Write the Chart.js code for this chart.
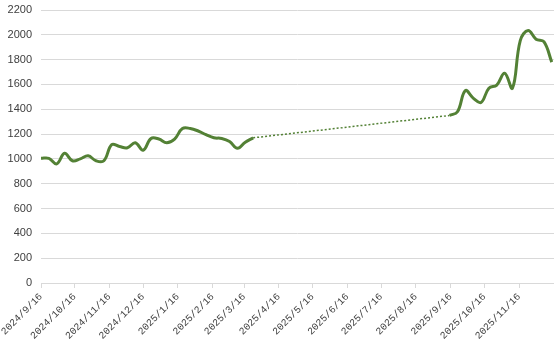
<!DOCTYPE html>
<html>
<head>
<meta charset="utf-8">
<script src="https://cdn.jsdelivr.net/npm/chart.js@4/dist/chart.umd.min.js"></script>
<style>
html,body{margin:0;padding:0;background:#fff;}
#wrap{width:554px;height:354px;position:relative;}
</style>
</head>
<body>
<div id="wrap"><canvas id="c" width="554" height="354"></canvas></div>
<script>
// Weekly observation dates
const dates = [
  '2024/9/16','2024/9/23','2024/9/30','2024/10/7','2024/10/14','2024/10/21','2024/10/28',
  '2024/11/4','2024/11/11','2024/11/18','2024/11/25','2024/12/2','2024/12/9','2024/12/16',
  '2024/12/23','2024/12/30','2025/1/6','2025/1/13','2025/1/20','2025/1/27','2025/2/3',
  '2025/2/10','2025/2/17','2025/2/24','2025/3/3','2025/3/10','2025/3/17','2025/3/24',
  '2025/9/15','2025/9/22','2025/9/29','2025/10/6','2025/10/13','2025/10/20','2025/10/27',
  '2025/11/3','2025/11/10','2025/11/17','2025/11/24','2025/12/1','2025/12/8','2025/12/15'
];
const values = [
  1005, 1005, 960, 1045, 985, 1000, 1025,
  985, 985, 1115, 1100, 1090, 1130, 1070,
  1165, 1160, 1130, 1160, 1245, 1245, 1225,
  1195, 1170, 1165, 1140, 1085, 1135, 1170,
  1350, 1380, 1550, 1490, 1455, 1570, 1595,
  1690, 1570, 1955, 2035, 1965, 1945, 1780
];
const tickLabels = [
  '2024/9/16','2024/10/16','2024/11/16','2024/12/16','2025/1/16','2025/2/16','2025/3/16',
  '2025/4/16','2025/5/16','2025/6/16','2025/7/16','2025/8/16','2025/9/16','2025/10/16','2025/11/16'
];
const yTicks = [0,200,400,600,800,1000,1200,1400,1600,1800,2000,2200];

function toDay(s){
  const [y,m,d] = s.split('/').map(Number);
  return Math.round((Date.UTC(y,m-1,d) - Date.UTC(2024,8,16)) / 86400000);
}

const solid = [];
const dotted = [];
for (let i = 0; i < dates.length; i++) {
  const x = toDay(dates[i]);
  if (i > 0) {
    const px = toDay(dates[i-1]);
    if (x - px > 14) {
      solid.push({x: (x + px) / 2, y: null});
      dotted.push({x: px, y: values[i-1]});
      dotted.push({x: x, y: values[i]});
    }
  }
  solid.push({x: x, y: values[i]});
}
const tickDays = tickLabels.map(toDay);
const labelMap = {};
tickDays.forEach((d, i) => labelMap[d] = tickLabels[i]);

const green = '#538135';

new Chart(document.getElementById('c'), {
  type: 'line',
  data: {
    datasets: [
      {
        data: solid,
        borderColor: green,
        borderWidth: 3,
        pointRadius: 0,
        tension: 0.4,
        spanGaps: false,
        fill: false
      },
      {
        data: dotted,
        borderColor: green,
        borderWidth: 1.5,
        borderDash: [2, 2],
        pointRadius: 0,
        tension: 0,
        fill: false
      }
    ]
  },
  options: {
    responsive: false,
    animation: false,
    events: [],
    layout: { padding: { top: 10, right: 0, left: 0, bottom: 0 } },
    plugins: { legend: { display: false }, tooltip: { enabled: false } },
    scales: {
      x: {
        type: 'linear',
        min: 0,
        max: 457,
        afterBuildTicks: s => { s.ticks = tickDays.map(v => ({ value: v })); },
        afterFit: s => { s.height = 71; s.paddingLeft = 0; s.paddingRight = 0; },
        ticks: {
          autoSkip: false,
          minRotation: 45,
          maxRotation: 45,
          padding: 3,
          color: '#404040',
          font: { family: 'Liberation Mono', size: 10 },
          callback: v => labelMap[v] || ''
        },
        grid: {
          drawOnChartArea: false,
          drawTicks: true,
          tickLength: 5,
          color: '#d9d9d9'
        },
        border: { color: '#d9d9d9', width: 1 }
      },
      y: {
        min: 0,
        max: 2200,
        afterBuildTicks: s => { s.ticks = yTicks.map(v => ({ value: v })); },
        afterFit: s => { s.width = 41; s.paddingTop = 0; s.paddingBottom = 0; },
        ticks: {
          padding: 9,
          color: '#404040',
          font: { family: 'Liberation Sans', size: 11 },
          callback: v => String(v)
        },
        grid: { color: '#d9d9d9', drawTicks: false, lineWidth: 1 },
        border: { display: false }
      }
    }
  }
});
</script>
</body>
</html>
